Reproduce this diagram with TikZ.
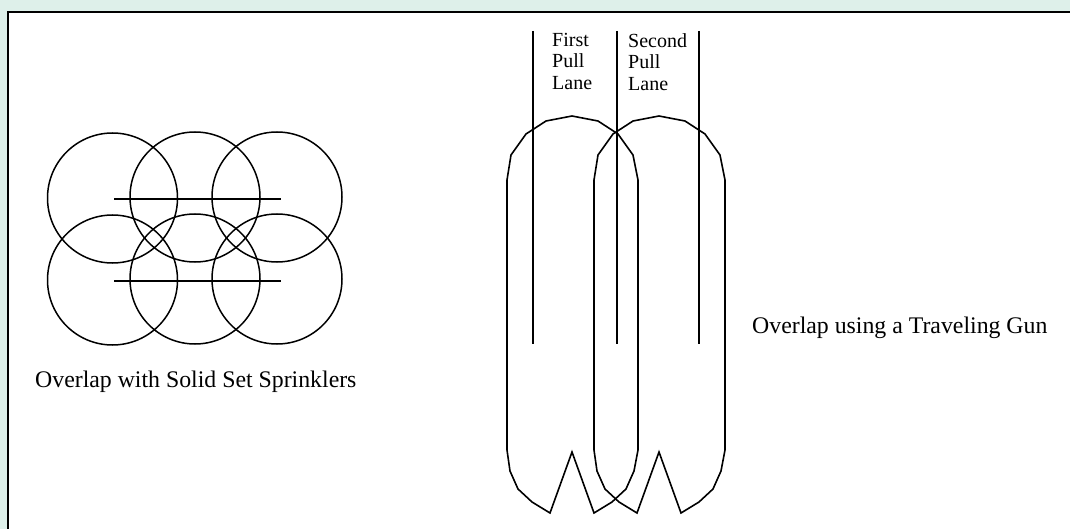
\documentclass[tikz,border=0pt]{standalone}
\usepackage{fontspec}
\setmainfont{Liberation Serif}
\definecolor{bggreen}{RGB}{222,240,234}
\begin{document}
\begin{tikzpicture}[x=1pt,y=-1pt,
  ln/.style={line width=1.6pt, line join=miter},
  caption/.style={inner sep=0pt, font=\fontsize{23.8}{28}\selectfont},
  lanelabel/.style={inner sep=0pt, align=left, font=\fontsize{20}{21.5}\selectfont}]
\useasboundingbox (0,0) rectangle (1070,529);
\fill[bggreen] (0,0) rectangle (1070,529);
\fill[white] (8,12) rectangle (1070,529);
\draw[line width=2.2pt] (8,529) -- (8,12) -- (1070,12);

% sprinkler circles
\foreach \n/\cx/\cy in {c1/112.5/198, c2/195/197, c3/277/197, c4/112.5/280, c5/195/279, c6/277/279}
  \node[draw, line width=1.5pt, circle, minimum size=130pt, inner sep=0pt] (\n) at (\cx,\cy) {};
\coordinate (h1a) at (114,199); \coordinate (h1b) at (281,199);
\coordinate (h2a) at (114,281); \coordinate (h2b) at (281,281);
\draw[ln] (h1a) -- (h1b);
\draw[ln] (h2a) -- (h2b);

\node[caption, anchor=base west] (capL) at (35,387) {Overlap with Solid Set Sprinklers};

% traveling gun shapes
\foreach \sx in {572, 659} {
  \begin{scope}[shift={(\sx,0)}]
    \draw[ln] (-65,180) -- (-61,155) -- (-46,134) -- (-26,121) -- (0,116)
      -- (26,121) -- (46,134) -- (61,155) -- (66,180) -- (66,450)
      -- (62,471) -- (54,489) -- (40,502) -- (22,513) -- (0,452)
      -- (-22,513) -- (-40,502) -- (-54,489) -- (-62,471) -- (-65,450) -- cycle;
  \end{scope}
}

% pull lane lines
\foreach \n/\x in {l1/533, l2/617, l3/699} {
  \coordinate (\n t) at (\x,31);
  \coordinate (\n b) at (\x,344);
  \draw[ln] (\n t) -- (\n b);
}

\node[lanelabel, anchor=north west] (first) at (552,33) {First\\Pull\\Lane};
\node[lanelabel, anchor=north west] (second) at (628,33) {Second\\Pull\\Lane};

\node[caption, anchor=base west] (capR) at (752,333) {Overlap using a Traveling Gun};
\end{tikzpicture}
\end{document}
